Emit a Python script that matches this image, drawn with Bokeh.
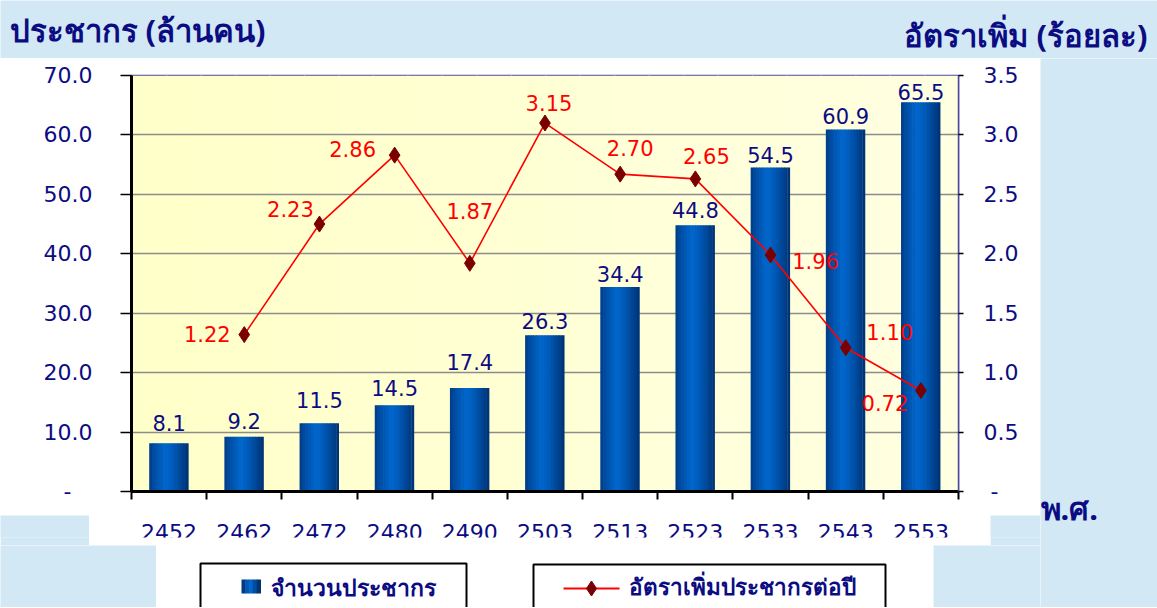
from bokeh.plotting import figure
from bokeh.models import (Range1d, LinearAxis, FixedTicker,
                          NumeralTickFormatter, ColumnDataSource)
from bokeh.layouts import column, row
from bokeh.transform import dodge
from bokeh.core.properties import value
from bokeh.embed import file_html
from bokeh.resources import INLINE

# ---------------- data ----------------
years = ["2452", "2462", "2472", "2480", "2490", "2503", "2513", "2523", "2533", "2543", "2553"]
population = [8.1, 9.2, 11.5, 14.5, 17.4, 26.3, 34.4, 44.8, 54.5, 60.9, 65.5]
rate_years = ["2462", "2472", "2480", "2490", "2503", "2513", "2523", "2533", "2543", "2553"]
rate_values = [1.32, 2.25, 2.83, 1.92, 3.10, 2.67, 2.63, 1.99, 1.21, 0.85]
rate_labels = ["1.22", "2.23", "2.86", "1.87", "3.15", "2.70", "2.65", "1.96", "1.10", "0.72"]
left_title = "ประชากร (ล้านคน)"
right_title = "อัตราเพิ่ม (ร้อยละ)"
x_title = "พ.ศ."
legend_pop = "จำนวนประชากร"
legend_rate = "อัตราเพิ่มประชากรต่อปี"

# category slot positions (centre of each year's slot on the x scale)
x_pos = [i + 0.5 for i in range(len(years))]
rate_x = [years.index(y) + 0.5 for y in rate_years]

# ---------------- styles / layout ----------------
BG = "#d2e8f5"
NAVY = "#0c0c82"
NUM_FONT_NAME = "DejaVu Sans"
NUM_FONT = value(NUM_FONT_NAME)
THAI_FONT = value("Noto Sans")
pop_label_dy = [-20, -16, -23, -17, -26, -14, -13, -15, -13, -14, -10]
rate_dx = [-37, -29, -42, 0, 4, 10, 11, 45, 44, -36]
rate_dy = [-1, -15, -6, -52, -20, -26, -23, 6, -16, 13]
Y_MAX = 70
RATE_MAX = 3.5


def blank(w, h, xr, yr, color):
    f = figure(width=w, height=h, x_range=xr, y_range=yr, toolbar_location=None,
               output_backend="svg", x_axis_location=None, y_axis_location=None,
               min_border_left=0, min_border_right=0, min_border_top=0, min_border_bottom=0)
    f.grid.visible = False
    f.outline_line_color = None
    f.background_fill_color = color
    f.border_fill_color = color
    return f


def mix(c1, c2, a):
    return "#%02x%02x%02x" % tuple(round(c1[k] + (c2[k] - c1[k]) * a) for k in range(3))


# title band (page coords)
title_fig = blank(1157, 58, Range1d(0, 1157), Range1d(58, 0), BG)
title_fig.text(x=[9], y=[29], text=[left_title], text_font=THAI_FONT, text_font_size="31px",
               text_font_style="bold", text_color=NAVY, text_baseline="middle", text_align="left")
title_fig.text(x=[1147], y=[34], text=[right_title], text_font=THAI_FONT, text_font_size="31px",
               text_font_style="bold", text_color=NAVY, text_baseline="middle", text_align="right")

# main chart
xr = Range1d(0, len(years))
p = figure(width=1040, height=457, x_range=xr, y_range=Range1d(0, Y_MAX),
           x_axis_location="below", y_axis_location="left", toolbar_location=None,
           output_backend="svg", min_border_left=131, min_border_right=82,
           min_border_top=17, min_border_bottom=24)
p.background_fill_color = "#ffffd0"
p.border_fill_color = "white"
p.outline_line_color = "#4b4b9b"
p.outline_line_width = 1.5
p.extra_y_ranges = {"rate": Range1d(0, RATE_MAX)}
p.xgrid.visible = False

# subtle left-to-right gradient of the plot area (behind the grid)
NG = 24
g0, g1 = (0xff, 0xff, 0xc8), (0xff, 0xff, 0xe2)
gw = len(years) / NG
p.quad(left=[k * gw for k in range(NG)], right=[(k + 1) * gw + 0.02 for k in range(NG)],
       bottom=[0] * NG, top=[Y_MAX] * NG,
       fill_color=[mix(g0, g1, (k + 0.5) / NG) for k in range(NG)], line_color=None, level="image")

la = p.yaxis[0]
la.ticker = FixedTicker(ticks=list(range(0, 71, 10)))
la.formatter = NumeralTickFormatter(format="0.0")
la.major_label_overrides = {0: "-\u00a0\u00a0\u00a0"}
la.axis_line_color = "black"
la.axis_line_width = 3
la.major_tick_line_color = "black"
la.major_tick_line_width = 1.5
la.major_tick_out = 11
la.major_tick_in = 0
la.minor_tick_line_color = None
la.major_label_standoff = 28
la.major_label_text_font = NUM_FONT_NAME
la.major_label_text_font_size = "22px"
la.major_label_text_color = NAVY

ra = LinearAxis(y_range_name="rate", ticker=FixedTicker(ticks=[0, 0.5, 1.0, 1.5, 2.0, 2.5, 3.0, 3.5]),
                formatter=NumeralTickFormatter(format="0.0"))
ra.major_label_overrides = {0: "\u00a0-"}
ra.axis_line_color = "#4b4b9b"
ra.axis_line_width = 1.5
ra.major_tick_line_color = "black"
ra.major_tick_line_width = 1.5
ra.major_tick_out = 5
ra.major_tick_in = 0
ra.minor_tick_line_color = None
ra.major_label_standoff = 20
ra.major_label_text_font = NUM_FONT_NAME
ra.major_label_text_font_size = "22px"
ra.major_label_text_color = NAVY
p.add_layout(ra, "right")

ba = p.xaxis[0]
ba.ticker = FixedTicker(ticks=list(range(len(years) + 1)))
ba.major_label_overrides = {i: "" for i in range(len(years) + 1)}
ba.major_label_text_font_size = "0px"
ba.major_label_standoff = 0
ba.axis_line_color = "black"
ba.axis_line_width = 3
ba.major_tick_line_color = "black"
ba.major_tick_line_width = 2
ba.major_tick_out = 8
ba.major_tick_in = 0
ba.minor_tick_line_color = None

p.ygrid.ticker = la.ticker
p.ygrid.grid_line_color = "#8c8c8c"
p.ygrid.grid_line_width = 1.5

# bars with horizontal gradient (strips)
src = ColumnDataSource(dict(x=x_pos, year=years, pop=population,
                            label=[f"{v:.1f}" for v in population],
                            dy=pop_label_dy))
BAR_W = 0.52
N = 14
dark_l = (0x00, 0x38, 0x80)
bright = (0x00, 0x66, 0xcc)
dark_r = (0x00, 0x30, 0x72)
PEAK = 0.42
sw = BAR_W / N
for i in range(N):
    t = (i + 0.5) / N
    if t < PEAK:
        col = mix(dark_l, bright, (t / PEAK) ** 0.7)
    else:
        col = mix(bright, dark_r, ((t - PEAK) / (1 - PEAK)) ** 1.3)
    off = -BAR_W / 2 + (i + 0.5) * sw
    p.vbar(x=dodge("x", off), top="pop", bottom=0, width=sw * (1.25 if i < N - 1 else 1.0),
           source=src, fill_color=col, line_color=None)

p.text(x="x", y="pop", text="label", y_offset="dy", source=src, text_font=NUM_FONT,
       text_font_size="21px", text_color=NAVY, text_align="center", text_baseline="middle")

# growth-rate line
rsrc = ColumnDataSource(dict(x=rate_x, year=rate_years, rate=rate_values, label=rate_labels,
                             dx=rate_dx, dy=rate_dy))
p.line(x="x", y="rate", source=rsrc, y_range_name="rate", line_color="#ff0000", line_width=1.6)
p.scatter(x="x", y="rate", source=rsrc, y_range_name="rate", marker="diamond", size=16,
          fill_color="#7a0000", line_color="#7a0000")
p.text(x="x", y="rate", text="label", x_offset="dx", y_offset="dy", source=rsrc,
       y_range_name="rate", text_font=NUM_FONT, text_font_size="21px", text_color="#ff0000",
       text_align="center", text_baseline="middle")

# year labels row (clipped like the original)
yfig = figure(width=901, height=30, x_range=xr, y_range=Range1d(0, 22), toolbar_location=None,
              output_backend="svg", x_axis_location=None, y_axis_location=None,
              min_border_left=42, min_border_right=32, min_border_top=0, min_border_bottom=8)
yfig.grid.visible = False
yfig.outline_line_color = None
yfig.background_fill_color = "white"
yfig.border_fill_color = "white"
yfig.text(x=x_pos, y=[6] * len(years), text=years, text_font=NUM_FONT, text_font_size="22px",
          text_color=NAVY, text_align="center", text_baseline="middle")

sp1 = blank(89, 30, Range1d(0, 1), Range1d(0, 1), BG)
sp2 = blank(50, 30, Range1d(0, 1), Range1d(0, 1), BG)

# legend row (page coords)
lfig = blank(777, 62, Range1d(156, 933), Range1d(607, 545), "white")
lfig.quad(left=[200, 533], right=[466, 885], top=[563, 564], bottom=[620, 620],
          fill_color=None, line_color="black", line_width=2)
sq_cols = ["#003a80", "#0058b4", "#0064c8", "#004f9f", "#00336f"]
for i, c in enumerate(sq_cols):
    lfig.quad(left=[241 + i * 3.8], right=[241 + (i + 1) * 3.8 + 0.5], top=[579], bottom=[593],
              fill_color=c, line_color=None)
lfig.text(x=[270], y=[586], text=[legend_pop], text_font=THAI_FONT, text_font_size="23px",
          text_font_style="bold", text_color=NAVY, text_baseline="middle", text_align="left")
lfig.line(x=[563, 619], y=[588, 588], line_color="#ff0000", line_width=2)
lfig.scatter(x=[591], y=[588], marker="diamond", size=15, fill_color="#7a0000", line_color="#7a0000")
lfig.text(x=[628], y=[586], text=[legend_rate], text_font=THAI_FONT, text_font_size="22.5px",
          text_font_style="bold", text_color=NAVY, text_baseline="middle", text_align="left")

sp3 = blank(156, 62, Range1d(0, 1), Range1d(0, 1), BG)
sp4 = blank(107, 62, Range1d(0, 1), Range1d(0, 1), BG)

# right strip with x-axis title
rfig = blank(117, 549, Range1d(1040, 1157), Range1d(607, 58), BG)
rfig.text(x=[1040], y=[507], text=[x_title], text_font=THAI_FONT, text_font_size="31px",
          text_font_style="bold", text_color=NAVY, text_baseline="middle", text_align="left")

left_col = column(p, row(sp1, yfig, sp2), row(sp3, lfig, sp4))
layout = column(title_fig, row(left_col, rfig))

open("out.html", "w").write(file_html(layout, INLINE))
